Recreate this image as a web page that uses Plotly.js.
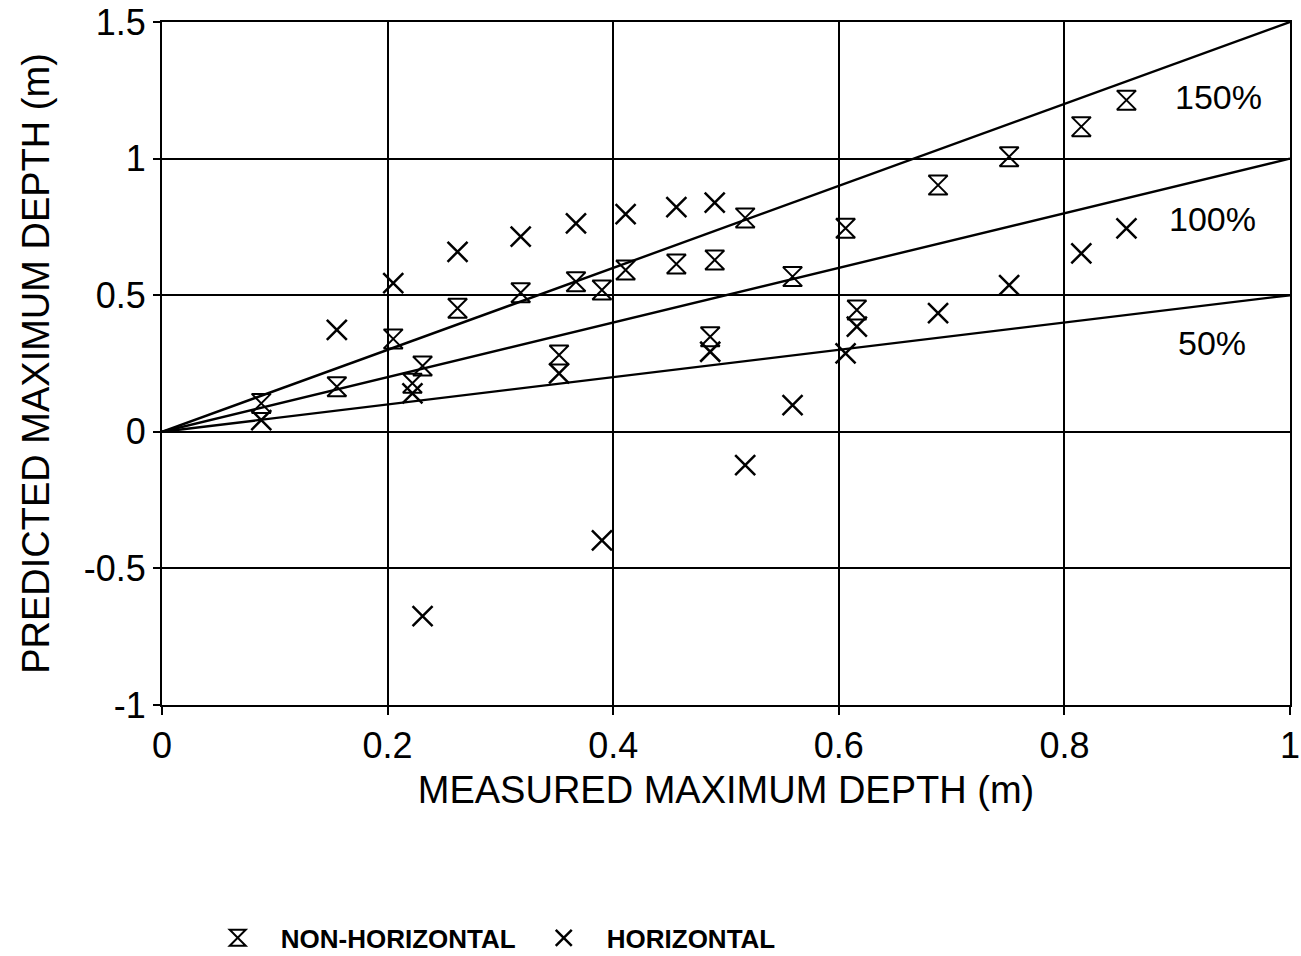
<!DOCTYPE html>
<html>
<head>
<meta charset="utf-8">
<script src="https://cdn.plot.ly/plotly-3.0.1.min.js"></script>
<style>
  html, body { margin: 0; padding: 0; background: #fff; }
  #chart { width: 1301px; height: 956px; }
</style>
</head>
<body>
<div id="chart"></div>
<script>
// Measured maximum depth (m) — each measurement has a non-horizontal and a horizontal prediction
const measured = [0.088, 0.155, 0.205, 0.222, 0.231, 0.262, 0.318, 0.352, 0.367, 0.390, 0.411,
                  0.456, 0.486, 0.490, 0.517, 0.559, 0.606, 0.616, 0.688, 0.751, 0.815, 0.855];
const predNonHorizontal = [0.104, 0.165, 0.340, 0.178, 0.241, 0.452, 0.509, 0.281, 0.549, 0.519, 0.592,
                           0.614, 0.348, 0.629, 0.783, 0.568, 0.745, 0.446, 0.903, 1.007, 1.117, 1.214];
const predHorizontal = [0.043, 0.373, 0.544, 0.141, -0.675, 0.659, 0.714, 0.214, 0.763, -0.397, 0.797,
                        0.822, 0.293, 0.839, -0.122, 0.098, 0.287, 0.385, 0.434, 0.537, 0.653, 0.745];

// Reference ratio lines (predicted / measured)
const ratioLabels = ["150%", "100%", "50%"];
const ratios = [1.5, 1.0, 0.5];
const lineX = [0, 1];
const labelX = [0.937, 0.931, 0.931];
const labelY = [1.225, 0.78, 0.325];

const xTicks = [0, 0.2, 0.4, 0.6, 0.8, 1];
const xTickText = ["0", "0.2", "0.4", "0.6", "0.8", "1"];
const yTicks = [-1, -0.5, 0, 0.5, 1, 1.5];
const yTickText = ["-1", "-0.5", "0", "0.5", "1", "1.5"];

const FONT = "'Liberation Sans', Arial, Helvetica, sans-serif";

const traces = [];
ratios.forEach((r, i) => {
  traces.push({
    x: lineX, y: lineX.map(v => v * r),
    mode: "lines", type: "scatter",
    line: { color: "#000", width: 2.4 },
    showlegend: false, hoverinfo: "skip"
  });
});
traces.push({
  x: measured, y: predNonHorizontal, type: "scatter", mode: "markers",
  name: "NON-HORIZONTAL",
  marker: { symbol: "hourglass-open", size: 19, color: "#000", line: { color: "#000", width: 2 } }
});
traces.push({
  x: measured, y: predHorizontal, type: "scatter", mode: "markers",
  name: "HORIZONTAL",
  marker: { symbol: "x-thin-open", size: 20, color: "#000", line: { color: "#000", width: 2.5 } }
});

const annotations = ratioLabels.map((t, i) => ({
  x: labelX[i], y: labelY[i], xref: "x", yref: "y",
  text: t, showarrow: false,
  font: { family: FONT, size: 34, color: "#000" }
}));

const layout = {
  width: 1301, height: 956,
  paper_bgcolor: "#fff", plot_bgcolor: "#fff",
  margin: { l: 162, r: 11, t: 22, b: 251, autoexpand: false },
  font: { family: FONT, color: "#000" },
  xaxis: {
    range: [0, 1], tickvals: xTicks, ticktext: xTickText,
    automargin: false,
    showgrid: true, gridcolor: "#000", gridwidth: 2,
    showline: true, linecolor: "#000", linewidth: 2, mirror: true,
    ticks: "outside", ticklen: 8, tickwidth: 2, tickcolor: "#000",
    ticklabeloverflow: "allow",
    zeroline: false,
    tickfont: { family: FONT, size: 36, color: "#000" },
    title: { text: "MEASURED MAXIMUM DEPTH (m)", font: { family: FONT, size: 38, color: "#000" }, standoff: 11 }
  },
  yaxis: {
    range: [-1, 1.5], tickvals: yTicks, ticktext: yTickText,
    automargin: false,
    showgrid: true, gridcolor: "#000", gridwidth: 2,
    showline: true, linecolor: "#000", linewidth: 2, mirror: true,
    ticks: "outside", ticklen: 7, tickwidth: 2, tickcolor: "#000",
    zeroline: false,
    tickfont: { family: FONT, size: 36, color: "#000" },
    title: { text: "PREDICTED MAXIMUM DEPTH (m)", font: { family: FONT, size: 38, color: "#000" }, standoff: 22 }
  },
  legend: {
    orientation: "h", x: 0.029, xanchor: "left", y: -0.341, yanchor: "middle",
    font: { family: FONT, size: 26, color: "#000", weight: "bold" },
    itemwidth: 76, bgcolor: "rgba(0,0,0,0)"
  },
  annotations: annotations,
  showlegend: true
};

Plotly.newPlot("chart", traces, layout, { displayModeBar: false, staticPlot: true });
</script>
</body>
</html>
